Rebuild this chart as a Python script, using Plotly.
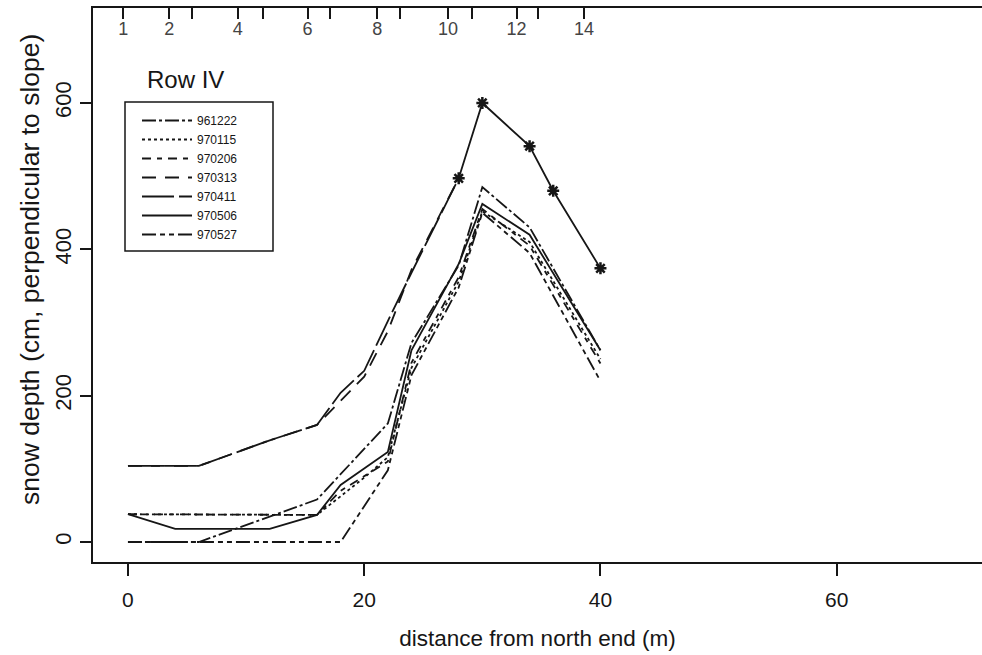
import plotly.graph_objects as go

# ---------------- data ----------------
series_names = ["961222", "970115", "970206", "970313", "970411", "970506", "970527"]

x_961222 = [0, 6, 16, 22, 24, 28, 30, 34, 40]
y_961222 = [0, 0, 58, 162, 272, 378, 485, 430, 262]

x_970115 = [0, 16, 20, 22, 24, 28, 30, 34, 40]
y_970115 = [38, 37, 88, 116, 238, 356, 452, 410, 250]

x_970206 = [0, 16, 18, 22, 24, 28, 30, 34, 40]
y_970206 = [38, 37, 70, 110, 245, 362, 455, 405, 244]

x_970313 = [0, 6, 12, 16, 20, 22, 24, 28]
y_970313 = [104, 104, 139, 160, 226, 288, 372, 497]

x_970411 = [0, 6, 12, 16, 18, 20, 22, 24, 28, 30, 34, 36, 40]
y_970411 = [104, 104, 139, 160, 204, 234, 302, 368, 497, 600, 541, 480, 374]

x_970506 = [0, 4, 12, 16, 18, 22, 24, 28, 30, 34, 40]
y_970506 = [38, 18, 18, 37, 78, 123, 262, 380, 462, 420, 262]

x_970527 = [0, 6, 18, 22, 24, 28, 30, 34, 40]
y_970527 = [0, 0, 0, 98, 228, 348, 450, 395, 220]

# starred points of 970411 start at this index (x = 28)
star_start = 8

# stake numbers along the top axis
stake_pos = [-0.4, 3.5, 5.4, 9.3, 11.4, 15.2, 17.1, 21.1, 23.0, 27.1, 29.1, 32.9, 34.7, 38.6]
stake_lbl = ["1", "2", "", "4", "", "6", "", "8", "", "10", "", "12", "", "14"]

x_ticks = [0, 20, 40, 60]
y_ticks = [0, 200, 400, 600]

# ---------------- styles ----------------
dashes = {
    "961222": "14px,3px,3px,3px",
    "970115": "3px,3px",
    "970206": "9px,6px,5px,6px",
    "970313": "14px,9px",
    "970411": "32px,5px",
    "970506": "solid",
    "970527": "14px,4px,5px,4px,5px,4px",
}
data = {
    "961222": (x_961222, y_961222),
    "970115": (x_970115, y_970115),
    "970206": (x_970206, y_970206),
    "970313": (x_970313, y_970313),
    "970411": (x_970411[:star_start + 1], y_970411[:star_start + 1]),
    "970506": (x_970506, y_970506),
    "970527": (x_970527, y_970527),
}

INK = "#161616"
FONT = "Liberation Sans, Arial, sans-serif"

fig = go.Figure()
for name in series_names:
    xs, ys = data[name]
    fig.add_trace(go.Scatter(
        x=xs, y=ys, mode="lines", name=name,
        line=dict(color=INK, width=1.8, dash=dashes[name]),
    ))

# starred (solid) part of 970411
fig.add_trace(go.Scatter(
    x=x_970411[star_start:], y=y_970411[star_start:], mode="lines+markers",
    showlegend=False,
    line=dict(color=INK, width=1.8),
    marker=dict(symbol="asterisk-open", size=10, color=INK,
                line=dict(color=INK, width=2.5)),
))
# invisible trace to activate the top axis
fig.add_trace(go.Scatter(x=[stake_pos[0]], y=[0], xaxis="x2", mode="markers",
                         marker=dict(opacity=0), showlegend=False, hoverinfo="skip"))

X0, X1 = -2.96, 72.3
PW, PH = 889, 554
fig.update_layout(
    width=982, height=655,
    margin=dict(l=93, r=0, t=8, b=93),
    plot_bgcolor="white", paper_bgcolor="white",
    font=dict(family=FONT, color=INK),
    xaxis=dict(range=[X0, X1], tickvals=x_ticks, ticks="outside", ticklen=12,
               tickwidth=1.5, tickcolor=INK, showline=True, linecolor=INK,
               linewidth=1.5, showgrid=False, zeroline=False,
               tickfont=dict(size=21), ticklabelstandoff=6,
               title=dict(text="distance from north end (m)", font=dict(size=22.5),
                          standoff=20)),
    xaxis2=dict(range=[X0, X1], overlaying="x", side="top", tickvals=stake_pos,
                ticktext=stake_lbl, ticks="inside", ticklen=11, tickwidth=1.5,
                tickcolor=INK, ticklabelposition="inside", showline=True,
                linecolor=INK, linewidth=1.5, showgrid=False, zeroline=False,
                tickfont=dict(size=18), ticklabelstandoff=4),
    yaxis=dict(range=[-27.3, 729.8], tickvals=y_ticks, ticks="outside", ticklen=11,
               tickwidth=1.5, tickcolor=INK, showline=True, linecolor=INK,
               linewidth=1.5, showgrid=False, zeroline=False, tickangle=-90,
               tickfont=dict(size=22)),
    legend=dict(x=(137 - 93) / PW, y=(562 - 106) / PH, xanchor="left", yanchor="top",
                bgcolor="rgba(0,0,0,0)", borderwidth=0, itemwidth=50,
                font=dict(size=12, family=FONT), tracegroupgap=0),
    showlegend=True,
    shapes=[dict(type="rect", xref="paper", yref="paper",
                 x0=(125 - 93) / PW, x1=(273 - 93) / PW,
                 y0=(562 - 251) / PH, y1=(562 - 102) / PH,
                 line=dict(color=INK, width=1.5))],
    annotations=[
        dict(text="Row IV", xref="paper", yref="paper",
             x=(185 - 93) / PW, y=(562 - 80) / PH, showarrow=False,
             font=dict(size=24, family=FONT), xanchor="center", yanchor="middle"),
        dict(text="snow depth (cm, perpendicular to slope)", xref="paper", yref="paper",
             x=(30 - 93) / PW, y=(562 - 270) / PH, showarrow=False, textangle=-90,
             font=dict(size=26.5, family=FONT), xanchor="center", yanchor="middle"),
    ],
)

fig.write_html("out.html")
